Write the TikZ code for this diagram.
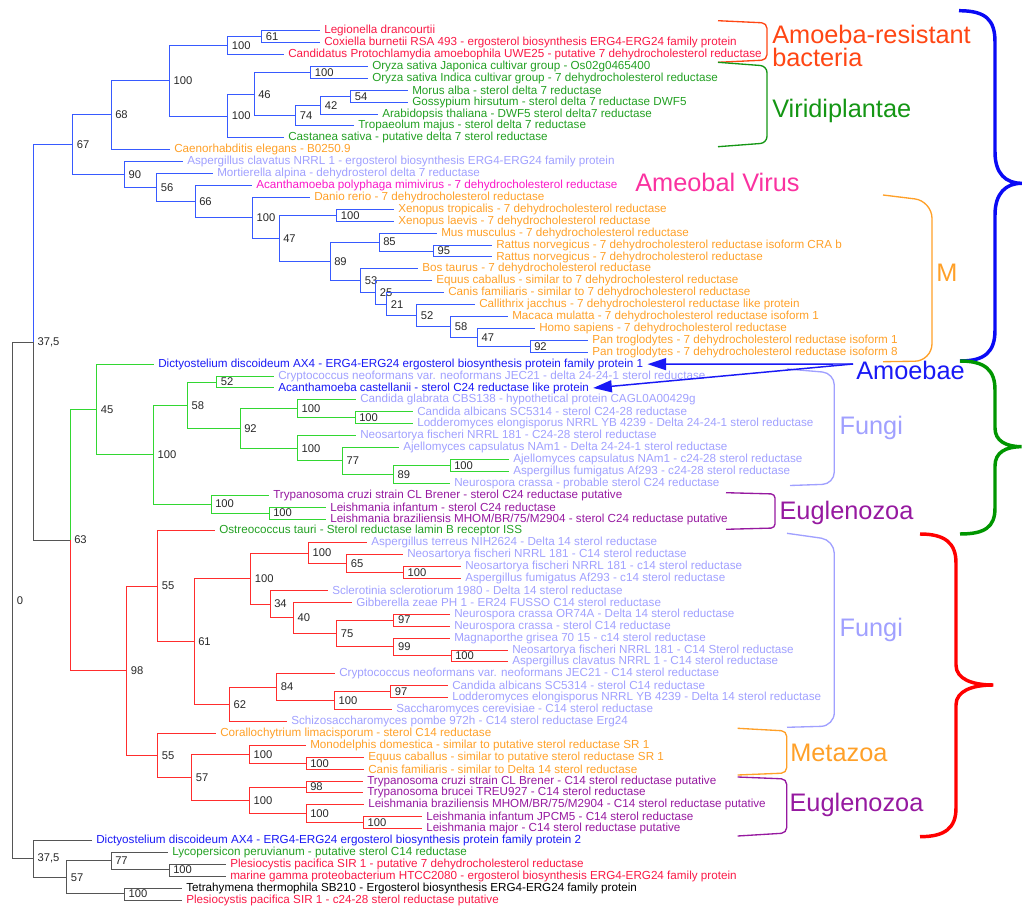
\documentclass[tikz,border=0pt]{standalone}
\usepackage{fontspec}
\setmainfont{Liberation Sans}
\usetikzlibrary{arrows.meta}
\definecolor{stem}{RGB}{85,85,85}
\definecolor{bluebr}{RGB}{55,90,255}
\definecolor{greenbr}{RGB}{50,215,50}
\definecolor{redbr}{RGB}{255,45,45}
\definecolor{ink}{RGB}{40,40,40}
\definecolor{bact}{RGB}{250,25,70}
\definecolor{plant}{RGB}{35,160,35}
\definecolor{animal}{RGB}{255,160,40}
\definecolor{fungus}{RGB}{160,160,255}
\definecolor{virus}{RGB}{250,25,200}
\definecolor{amoeba}{RGB}{25,25,245}
\definecolor{eugl}{RGB}{150,25,160}
\definecolor{resist}{RGB}{255,70,20}
\definecolor{viri}{RGB}{20,150,20}
\definecolor{vir}{RGB}{250,50,160}
\definecolor{bluebrace}{RGB}{10,10,245}
\definecolor{greenbrace}{RGB}{0,150,0}
\definecolor{redbrace}{RGB}{255,0,0}
\tikzset{
  leaf/.style={anchor=west,inner xsep=3pt,inner ysep=0.5pt,text=#1,font=\fontsize{8.75}{10}\selectfont},
  leaf/.default=black,
  boot/.style={anchor=west,inner xsep=3pt,inner ysep=0.5pt,text=ink,font=\fontsize{8.4}{10}\selectfont},
  branch/.style={draw=#1,line width=0.75pt},
  branch/.default=stem,
  group/.style={anchor=base west,inner sep=0pt,text=#1,font=\fontsize{19}{17.5}\selectfont},
  bracket/.style={draw=#1,line width=1pt},
  curly/.style={draw=#1,line width=2.6pt},
  pointer/.style={draw=#1,line width=1.1pt,-{Triangle[length=14pt,width=9pt]}},
}
\begin{document}
\begin{tikzpicture}[x=0.75pt,y=-0.75pt,declare function={ry(\n)=30.7+(\n-1)*11.91;}]
  \useasboundingbox (0,0) rectangle (1022,909);
  % leaves
  \foreach \i/\x/\c/\t in {1/320/bact/Legionella drancourtii,
    2/320/bact/Coxiella burnetii RSA 493 - ergosterol biosynthesis ERG4-ERG24 family protein,
    3/284/bact/Candidatus Protochlamydia amoebophila UWE25 - putative 7 dehydrocholesterol reductase,
    4/368/plant/Oryza sativa Japonica cultivar group - Os02g0465400,
    5/368/plant/Oryza sativa Indica cultivar group - 7 dehydrocholesterol reductase,
    6/408/plant/Morus alba - sterol delta 7 reductase,
    7/408/plant/Gossypium hirsutum - sterol delta 7 reductase DWF5,
    8/378/plant/Arabidopsis thaliana - DWF5 sterol delta7 reductase,
    9/354/plant/Tropaeolum majus - sterol delta 7 reductase,
    10/284/plant/Castanea sativa - putative delta 7 sterol reductase,
    11/170/animal/Caenorhabditis elegans - B0250.9,
    12/183/fungus/Aspergillus clavatus NRRL 1 - ergosterol biosynthesis ERG4-ERG24 family protein,
    13/213/fungus/Mortierella alpina - dehydrosterol delta 7 reductase,
    14/252/virus/Acanthamoeba polyphaga mimivirus - 7 dehydrocholesterol reductase,
    15/310/animal/Danio rerio - 7 dehydrocholesterol reductase,
    16/394/animal/Xenopus tropicalis - 7 dehydrocholesterol reductase,
    17/394/animal/Xenopus laevis - 7 dehydrocholesterol reductase,
    18/437/animal/Mus musculus - 7 dehydrocholesterol reductase,
    19/492/animal/Rattus norvegicus - 7 dehydrocholesterol reductase isoform CRA b,
    20/492/animal/Rattus norvegicus - 7 dehydrocholesterol reductase,
    21/418/animal/Bos taurus - 7 dehydrocholesterol reductase,
    22/432/animal/Equus caballus - similar to 7 dehydrocholesterol reductase,
    23/444/animal/Canis familiaris - similar to 7 dehydrocholesterol reductase,
    24/475/animal/Callithrix jacchus - 7 dehydrocholesterol reductase like protein,
    25/508/animal/Macaca mulatta - 7 dehydrocholesterol reductase isoform 1,
    26/535/animal/Homo sapiens - 7 dehydrocholesterol reductase,
    27/588/animal/Pan troglodytes - 7 dehydrocholesterol reductase isoform 1,
    28/588/animal/Pan troglodytes - 7 dehydrocholesterol reductase isoform 8,
    29/154/amoeba/Dictyostelium discoideum AX4 - ERG4-ERG24 ergosterol biosynthesis protein family protein 1,
    30/274/fungus/Cryptococcus neoformans var. neoformans JEC21 - delta 24-24-1 sterol reductase,
    31/274/amoeba/Acanthamoeba castellanii - sterol C24 reductase like protein,
    32/356/fungus/Candida glabrata CBS138 - hypothetical protein CAGL0A00429g,
    33/413/fungus/Candida albicans SC5314 - sterol C24-28 reductase,
    34/413/fungus/Lodderomyces elongisporus NRRL YB 4239 - Delta 24-24-1 sterol reductase,
    35/356/fungus/Neosartorya fischeri NRRL 181 - C24-28 sterol reductase,
    36/399/fungus/Ajellomyces capsulatus NAm1 - Delta 24-24-1 sterol reductase,
    37/509/fungus/Ajellomyces capsulatus NAm1 - c24-28 sterol reductase,
    38/509/fungus/Aspergillus fumigatus Af293 - c24-28 sterol reductase,
    39/450/fungus/Neurospora crassa - probable sterol C24 reductase,
    40/269/eugl/Trypanosoma cruzi strain CL Brener - sterol C24 reductase putative,
    41/326/eugl/Leishmania infantum - sterol C24 reductase,
    42/326/eugl/{Leishmania braziliensis MHOM/BR/75/M2904 - sterol C24 reductase putative},
    43/215/plant/Ostreococcus tauri - Sterol reductase lamin B receptor ISS,
    44/367/fungus/Aspergillus terreus NIH2624 - Delta 14 sterol reductase,
    45/403/fungus/Neosartorya fischeri NRRL 181 - C14 sterol reductase,
    46/461/fungus/Neosartorya fischeri NRRL 181 - c14 sterol reductase,
    47/461/fungus/Aspergillus fumigatus Af293 - c14 sterol reductase,
    48/328/fungus/Sclerotinia sclerotiorum 1980 - Delta 14 sterol reductase,
    49/352/fungus/Gibberella zeae PH 1 - ER24 FUSSO C14 sterol reductase,
    50/450/fungus/Neurospora crassa OR74A - Delta 14 sterol reductase,
    51/450/fungus/Neurospora crassa - sterol C14 reductase,
    52/450/fungus/Magnaporthe grisea 70 15 - c14 sterol reductase,
    53/508/fungus/Neosartorya fischeri NRRL 181 - C14 Sterol reductase,
    54/508/fungus/Aspergillus clavatus NRRL 1 - C14 sterol reductase,
    55/335/fungus/Cryptococcus neoformans var. neoformans JEC21 - C14 sterol reductase,
    56/448/fungus/Candida albicans SC5314 - sterol C14 reductase,
    57/448/fungus/Lodderomyces elongisporus NRRL YB 4239 - Delta 14 sterol reductase,
    58/392/fungus/Saccharomyces cerevisiae - C14 sterol reductase,
    59/287/fungus/Schizosaccharomyces pombe 972h - C14 sterol reductase Erg24,
    60/216/animal/Corallochytrium limacisporum - sterol C14 reductase,
    61/306/animal/Monodelphis domestica - similar to putative sterol reductase SR 1,
    62/364/animal/Equus caballus - similar to putative sterol reductase SR 1,
    63/364/animal/Canis familiaris - similar to Delta 14 sterol reductase,
    64/363/eugl/Trypanosoma cruzi strain CL Brener - C14 sterol reductase putative,
    65/363/eugl/Trypanosoma brucei TREU927 - C14 sterol reductase,
    66/364/eugl/{Leishmania braziliensis MHOM/BR/75/M2904 - C14 sterol reductase putative},
    67/422/eugl/Leishmania infantum JPCM5 - C14 sterol reductase,
    68/422/eugl/Leishmania major - C14 sterol reductase putative,
    69/92/amoeba/Dictyostelium discoideum AX4 - ERG4-ERG24 ergosterol biosynthesis protein family protein 2,
    70/168/plant/Lycopersicon peruvianum - putative sterol C14 reductase,
    71/226/bact/Plesiocystis pacifica SIR 1 - putative 7 dehydrocholesterol reductase,
    72/226/bact/marine gamma proteobacterium HTCC2080 - ergosterol biosynthesis ERG4-ERG24 family protein,
    73/182/black/Tetrahymena thermophila SB210 - Ergosterol biosynthesis ERG4-ERG24 family protein,
    74/182/bact/Plesiocystis pacifica SIR 1 - c24-28 sterol reductase putative}
    \node[leaf=\c] (l\i) at (\x,{ry(\i)}) {\t};
  % inner nodes with bootstrap values
  \foreach \n/\x/\y/\b in {t0/12.7/600.6/0, t1/33.3/342.5/{37,5}, t2/70/540.1/63, t3/33.3/858.7/{37,5},
    b1/72.7/144.8/67, b2/111/114.9/68, b3/169.3/80.7/100, b4/227.7/45.6/100, b5/261.7/36.7/61,
    b6/227.7/116.1/100, b7/254/94.3/46, b8/310.7/72.4/100, b9/295.7/115.6/74, b10/320.7/105.2/42,
    b11/350.7/96.3/54, b12/124.3/174.7/90, b13/156.7/187.6/56, b14/195/201.7/66, b15/252.3/217.9/100,
    b16/336.7/215.3/100, b17/279/238.3/47, b18/330/261.4/89, b19/379/242.1/85, b20/433.3/251.1/95,
    b21/360.7/280.7/53, b22/375.7/292.5/25, b23/386.7/304.2/21, b24/416.7/315.8/52, b25/450.7/326.9/58,
    b26/477.3/337.3/47, b27/530/346.3/92,
    g1/96.7/409.5/45, g2/153.3/454.7/100, g3/187.3/405.3/58, g4/216.7/382.1/52, g5/240/428.5/92,
    g6/297.3/408.8/100, g7/355/417.8/100, g8/297.3/448.3/100, g9/342.3/460.9/77, g10/393.3/474.3/89,
    g11/450/465.4/100, g12/211/504.1/100, g13/269/513.1/100,
    r1/126.7/670.7/98, r2/157.7/586.1/55, r3/194/641.4/61, r4/250.7/578.6/100, r5/308.3/553.1/100,
    r6/346.7/563.5/65, r7/403.3/572.5/100, r8/270/604.1/34, r9/293.3/617.8/40, r10/336.7/633.4/75,
    r11/393.8/620.1/97, r12/393.8/646.8/99, r13/451/655.8/100, r14/229.3/704.3/62, r15/276.7/687/84,
    r16/334.3/700.4/100, r17/390.7/691.5/97, r18/157.7/755.3/55, r19/191.7/777.3/57, r20/249.3/754.2/100,
    r21/306/763.2/100, r22/249.3/800.3/100, r23/306/787/98, r24/306/813.7/100, r25/363.3/822.7/100,
    k1/66.7/877.3/57, k2/111/860.9/77, k3/169/869.9/100, k4/124.3/893.7/100}
    \node[boot] (\n) at (\x,\y) {\b};
  % branches
  \foreach \p/\q in {t0/t1, t0/t3, t1/t2, t3/l69, t3/k1, k1/k2, k1/k4, k2/l70, k2/k3, k3/l71, k3/l72,
    k4/l73, k4/l74}
    \draw[branch] (\p.west) |- (\q.west);
  \foreach \p/\q in {t1/b1, b1/b2, b1/b12, b2/b3, b2/l11, b3/b4, b3/b6, b4/b5, b4/l3, b5/l1, b5/l2,
    b6/b7, b6/l10, b7/b8, b7/b9, b8/l4, b8/l5, b9/b10, b9/l9, b10/b11, b10/l8, b11/l6, b11/l7,
    b12/l12, b12/b13, b13/l13, b13/b14, b14/l14, b14/b15, b15/l15, b15/b17, b17/b16, b17/b18,
    b16/l16, b16/l17, b18/b19, b18/b21, b19/l18, b19/b20, b20/l19, b20/l20, b21/l21, b21/b22,
    b22/l22, b22/b23, b23/l23, b23/b24, b24/l24, b24/b25, b25/l25, b25/b26, b26/l26, b26/b27,
    b27/l27, b27/l28}
    \draw[branch=bluebr] (\p.west) |- (\q.west);
  \foreach \p/\q in {t2/g1, g1/l29, g1/g2, g2/g3, g2/g12, g3/g4, g3/g5, g4/l30, g4/l31, g5/g6, g5/g8,
    g6/l32, g6/g7, g7/l33, g7/l34, g8/l35, g8/g9, g9/l36, g9/g10, g10/g11, g10/l39, g11/l37, g11/l38,
    g12/l40, g12/g13, g13/l41, g13/l42}
    \draw[branch=greenbr] (\p.west) |- (\q.west);
  \foreach \p/\q in {t2/r1, r1/r2, r1/r18, r2/l43, r2/r3, r3/r4, r3/r14, r4/r5, r4/r8, r5/l44, r5/r6,
    r6/l45, r6/r7, r7/l46, r7/l47, r8/l48, r8/r9, r9/l49, r9/r10, r10/r11, r10/r12, r11/l50, r11/l51,
    r12/l52, r12/r13, r13/l53, r13/l54, r14/r15, r14/l59, r15/l55, r15/r16, r16/r17, r16/l58,
    r17/l56, r17/l57, r18/l60, r18/r19, r19/r20, r19/r22, r20/l61, r20/r21, r21/l62, r21/l63,
    r22/r23, r22/r24, r23/l64, r23/l65, r24/l66, r24/r25, r25/l67, r25/l68}
    \draw[branch=redbr] (\p.west) |- (\q.west);
  % groups
  \draw[bracket=resist,rounded corners=4pt] (718,20.7) -- (767,23) -- (767,60) -- (718,62.3);
  \draw[bracket=viri,rounded corners=5pt] (718,62.3) -- (767,66) -- (767,143) -- (718,146.7);
  \draw[bracket=animal,rounded corners=13pt] (883,195) -- (932,201) -- (932,361) -- (883,361.7);
  \draw[bracket=fungus,rounded corners=9pt] (787,369) -- (834.3,373) -- (834.3,484) -- (790,485.5);
  \draw[bracket=eugl,rounded corners=3pt] (726,492.7) -- (775,494) -- (775,528) -- (726,529.3);
  \draw[bracket=fungus,rounded corners=10pt] (787,533.3) -- (834.3,540) -- (834.3,726) -- (787,727.3);
  \draw[bracket=animal,rounded corners=4pt] (737.7,728.3) -- (786.7,731) -- (786.7,773) -- (737.7,775);
  \draw[bracket=eugl,rounded corners=4pt] (737.7,777) -- (786.7,779) -- (786.7,833) -- (737.7,836);
  \node[group=resist,anchor=north west,align=left] (resist) at (772,24.5) {Amoeba-resistant\\bacteria};
  \node[group=viri] (viri) at (772,118) {Viridiplantae};
  \node[group=vir] (virus) at (635,191.7) {Ameobal Virus};
  \node[group=animal] (mgrp) at (936,281.7) {M};
  \node[group=amoeba] (amoebae) at (856,379.3) {Amoebae};
  \node[group=fungus] (fungi1) at (839.3,435) {Fungi};
  \node[group=eugl] (eugl1) at (779.3,519) {Euglenozoa};
  \node[group=fungus] (fungi2) at (839.3,636.7) {Fungi};
  \node[group=animal] (meta) at (790,761.7) {Metazoa};
  \node[group=eugl] (eugl2) at (789.3,811) {Euglenozoa};
  \coordinate (amo) at (853,364);
  \draw[pointer=amoeba] (amo) -- (l29.east);
  \draw[pointer=amoeba] (amo) -- (l31.east);
  % big braces
  \draw[curly=bluebrace] (959,10.7) .. controls (986,10.7) and (995,20) .. (995,42) -- (995,152)
    .. controls (995,174) and (1006,183.3) .. (1021.7,183.3) .. controls (1006,183.3) and (995,193) .. (995,215)
    -- (995,330) .. controls (995,352) and (985,361) .. (960,361);
  \draw[curly=greenbrace] (960,361) .. controls (985,361) and (995,370) .. (995,390) -- (995,428)
    .. controls (995,441) and (1006,446.7) .. (1021.7,446.7) .. controls (1006,446.7) and (995,452) .. (995,466)
    -- (995,508) .. controls (995,527) and (985,534) .. (960,534);
  \draw[curly=redbrace] (920,534) .. controls (945,534) and (956,543) .. (956,563) -- (956,665)
    .. controls (956,679) and (972,685) .. (993.3,685) .. controls (972,685) and (956,691) .. (956,705)
    -- (956,808) .. controls (956,828) and (945,836.7) .. (920,836.7);
\end{tikzpicture}
\end{document}
